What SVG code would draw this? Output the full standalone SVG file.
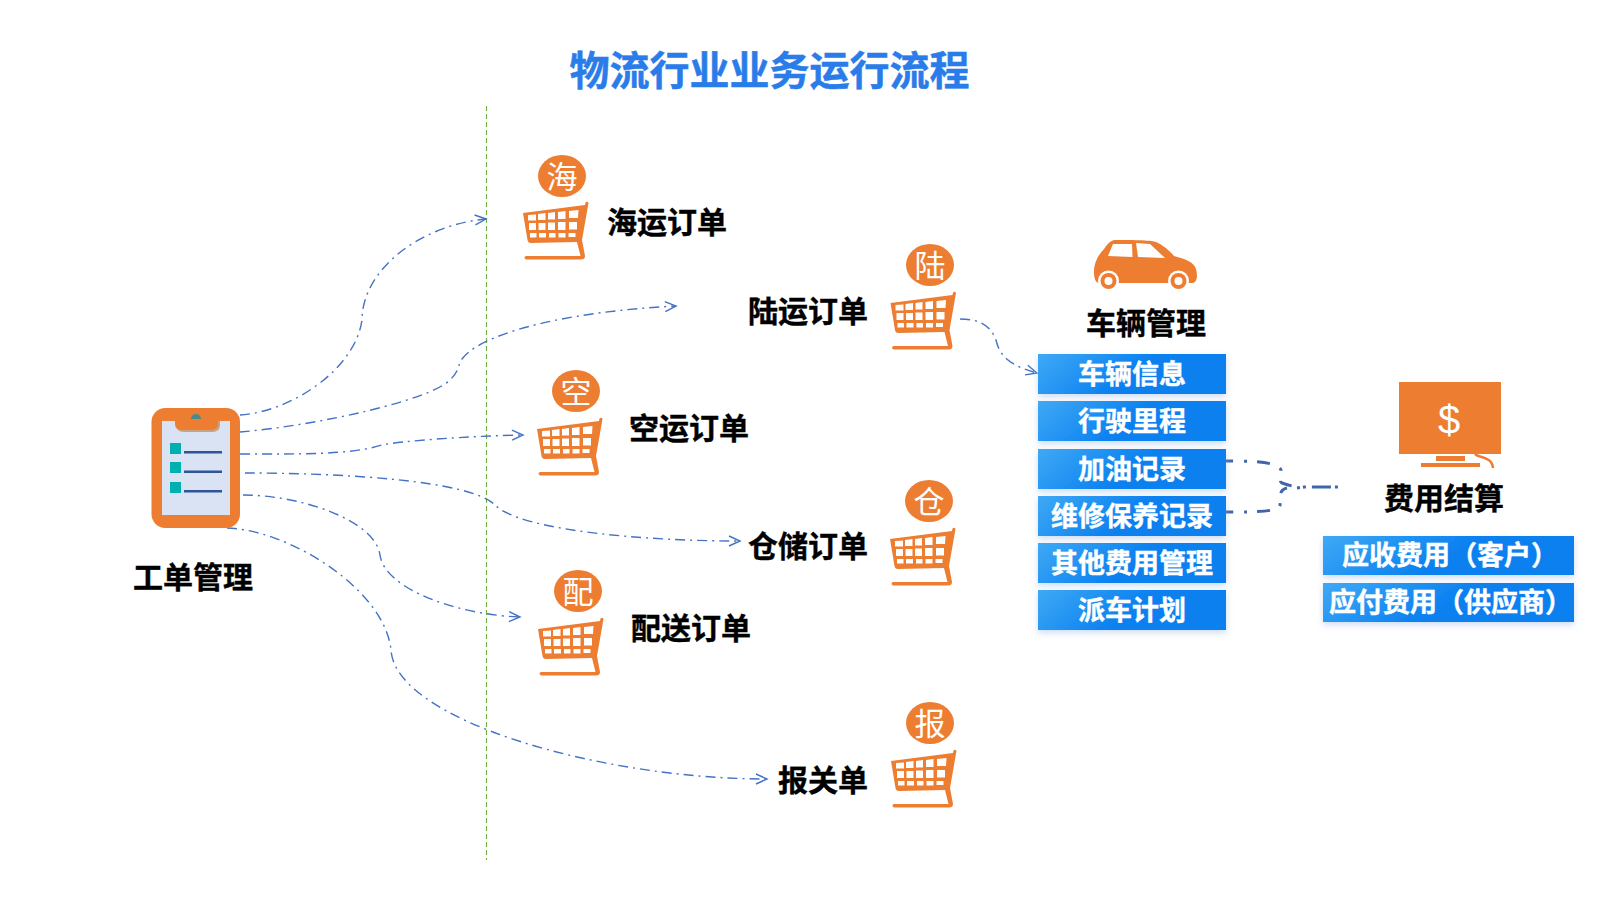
<svg xmlns="http://www.w3.org/2000/svg" xmlns:xlink="http://www.w3.org/1999/xlink" width="1600" height="900" viewBox="0 0 1600 900">
<style>
text{font-family:"Noto Sans CJK SC","Noto Sans",sans-serif}
.lbl{font-size:30px;font-weight:700;fill:#000;stroke:#000;stroke-width:.4;dominant-baseline:central}
.bar{font-size:27px;font-weight:700;fill:#fff;stroke:#fff;stroke-width:.4;text-anchor:middle;dominant-baseline:central}
.bar2{font-size:27px;font-weight:700;fill:#fff;stroke:#fff;stroke-width:.4;dominant-baseline:central}
.badge{font-size:31px;fill:#fff;text-anchor:middle;dominant-baseline:central}
.c{fill:none;stroke:#4472c4;stroke-width:1.4;stroke-dasharray:10 5 2 5;marker-end:url(#arr)}
.d{fill:none;stroke:#3f66a6;stroke-width:3;stroke-dasharray:13 11 3 10;stroke-dashoffset:6}
.o{fill:#ed7d31}
.w{fill:#fff}
.b{fill:url(#g);filter:url(#s)}
</style>
<defs>
<linearGradient id="g" x1="0" y1="0" x2="1" y2="0.25"><stop offset="0" stop-color="#3fa9f5"/><stop offset=".6" stop-color="#0a80f0"/><stop offset="1" stop-color="#0a80f0"/></linearGradient>
<filter id="s" x="-10%" y="-20%" width="120%" height="160%"><feDropShadow dx="0" dy="3" stdDeviation="3" flood-color="#9dbde8" flood-opacity=".5"/></filter>
<marker id="arr" markerUnits="userSpaceOnUse" markerWidth="14" markerHeight="14" refX="12" refY="6" orient="auto"><path d="M1 1L12 6L1 11" fill="none" stroke="#4472c4" stroke-width="1.400"/></marker>
<g id="basket">
<path class="o" fill-rule="evenodd" d="M0 11L62 3L62.500 0.500Q64.500 -1 65.500 1L59 38L62 54Q62 57.500 58 57.500L3 57.500Q0 55.500 3 54L57.500 54L54 40L8 41Q5 41 4.500 38ZM5 13V18.500H13L13 12.500ZM15 12V18H22.500V11ZM25 11V17.500H32V10ZM35 10V17H42.500V9ZM46 9V16H55L55.500 8ZM6 21V28H13V21ZM15.500 21V28H22.500V21ZM25 20.500V28H32V20.500ZM35 20V28H42.500V20ZM46 20V27.500H54V20ZM7 31V35.500H13.500V31ZM16 31V35.500H23V31ZM26 31V35.500H32.500V31ZM35.500 31V35.500H42.500V31ZM45.500 31V35H52.500V31Z"/>
</g>
</defs>
<rect width="1600" height="900" fill="#fff"/>
<text id="title" x="769.500" y="68" font-size="40" font-weight="700" fill="#2a7de9" stroke="#2a7de9" stroke-width=".5" text-anchor="middle" dominant-baseline="central">物流行业业务运行流程</text>
<line id="divider" x1="486.500" y1="106" x2="486.500" y2="860" stroke="#70ad47" stroke-width="1.100" stroke-dasharray="5 3"/>
<g id="connectors">
<path class="c" d="M240 415C290 412 355 370 362 320C362 270 420 225 486 219"/>
<path class="c" d="M240 432C320 425 430 400 450 380C458 372 458 368 460 362C475 335 560 312 676 306"/>
<path class="c" d="M240 454C300 454 350 455 382 445C400 441 470 436 523 435"/>
<path class="c" d="M245 473C340 473 470 480 495 505C520 530 640 541 740 541"/>
<path class="c" d="M243 495C300 495 375 520 380 555C385 590 460 615 520 617"/>
<path class="c" d="M227 528C290 530 385 590 391 650C395 720 600 779 767 779"/>
<path class="c" d="M960 319C985 319 992 330 996 340C1000 358 1012 366 1037 373"/>
<path class="d" d="M1226 461C1255 461 1278 462 1281 470C1281 478 1279 482 1282 483C1285 484 1288 485 1292 486"/>
<path class="d" d="M1226 512C1255 512 1280 512 1280 505C1281 497 1278 490 1287 488"/>
<path fill="none" stroke="#3f66a6" stroke-width="3" stroke-dasharray="3 3 3 6 19 4 3" d="M1297 488L1304 487H1338"/>
</g>
<g id="workorder">
<rect class="o" x="151.500" y="408" width="88.500" height="120" rx="14"/>
<rect x="162" y="421" width="68" height="94" fill="#dae3f3"/>
<path d="M176 421H220V425Q220 432 212 432H184Q176 432 176 425Z" fill="#c6a47e"/>
<path class="o" d="M175 421H218V424Q218 430 210 430H183Q175 430 175 424Z"/>
<path d="M191 419A5 5 0 0 1 201 419Z" fill="#4f8a8b"/>
<g fill="#00b0b0"><rect x="170" y="443" width="11" height="11"/><rect x="170" y="462" width="11" height="11"/><rect x="170" y="482" width="11" height="11"/></g>
<g fill="#2f5597"><rect x="184" y="451" width="38" height="2.500"/><rect x="184" y="470.500" width="38" height="2.500"/><rect x="184" y="490" width="38" height="2.500"/></g>
<text class="lbl" x="133" y="575">工单管理</text>
</g>
<g id="sea"><ellipse class="o" cx="562" cy="176" rx="24" ry="21"/><text class="badge" x="562" y="174">海</text><use xlink:href="#basket" href="#basket" x="523" y="202"/><text class="lbl" x="607" y="220">海运订单</text></g>
<g id="land"><ellipse class="o" cx="930" cy="265" rx="24" ry="21"/><text class="badge" x="930" y="263">陆</text><use xlink:href="#basket" href="#basket" x="890.500" y="292"/><text class="lbl" x="748" y="309">陆运订单</text></g>
<g id="air"><ellipse class="o" cx="576" cy="391" rx="24" ry="21"/><text class="badge" x="576" y="389">空</text><use xlink:href="#basket" href="#basket" x="537" y="418"/><text class="lbl" x="629" y="426">空运订单</text></g>
<g id="storage"><ellipse class="o" cx="929" cy="501" rx="24" ry="21"/><text class="badge" x="929" y="499">仓</text><use xlink:href="#basket" href="#basket" x="890" y="528"/><text class="lbl" x="748" y="544">仓储订单</text></g>
<g id="delivery"><ellipse class="o" cx="578" cy="591" rx="24" ry="21"/><text class="badge" x="578" y="589">配</text><use xlink:href="#basket" href="#basket" x="538" y="618"/><text class="lbl" x="631" y="626">配送订单</text></g>
<g id="customs"><ellipse class="o" cx="930" cy="723" rx="24" ry="21"/><text class="badge" x="930" y="721">报</text><use xlink:href="#basket" href="#basket" x="891" y="750"/><text class="lbl" x="778" y="778">报关单</text></g>
<g id="vehicle">
<path class="o" d="M1094 272C1094 262 1099 254 1104 249C1107 244 1110 241 1114 240C1130 240 1150 240 1156 242C1163 245 1170 251 1174 256C1185 259 1194 262 1196 269C1198 276 1197 283 1192 283L1100 283C1096 283 1094 280 1094 272Z"/>
<path class="w" d="M1108 256L1113 244H1132L1132.500 257ZM1138 257L1136 243L1150 244L1165 258Z"/>
<circle class="w" cx="1108.500" cy="281" r="10.500"/><circle class="o" cx="1108.500" cy="281" r="8"/><circle class="w" cx="1108.500" cy="281" r="4"/>
<circle class="w" cx="1178.500" cy="281" r="10.500"/><circle class="o" cx="1178.500" cy="281" r="8"/><circle class="w" cx="1178.500" cy="281" r="4"/>
<text class="lbl" x="1086" y="321">车辆管理</text>
<rect class="b" x="1038" y="354" width="188" height="40"/><text class="bar" x="1132" y="372">车辆信息</text>
<rect class="b" x="1038" y="401" width="188" height="40"/><text class="bar" x="1132" y="419">行驶里程</text>
<rect class="b" x="1038" y="449" width="188" height="40"/><text class="bar" x="1132" y="467">加油记录</text>
<rect class="b" x="1038" y="496" width="188" height="40"/><text class="bar" x="1132" y="514">维修保养记录</text>
<rect class="b" x="1038" y="543" width="188" height="40"/><text class="bar" x="1132" y="561">其他费用管理</text>
<rect class="b" x="1038" y="590" width="188" height="40"/><text class="bar" x="1132" y="608">派车计划</text>
</g>
<g id="settlement">
<rect class="o" x="1399" y="382" width="102" height="72"/>
<text x="1449" y="420" font-size="40" fill="#fff" text-anchor="middle" dominant-baseline="central" style="font-family:'Liberation Sans',sans-serif">$</text>
<rect class="o" x="1436" y="456" width="29" height="5"/>
<rect class="o" x="1421" y="463" width="59" height="4"/>
<path d="M1475 454C1478 458 1492 456 1493 468" fill="none" stroke="#ed7d31" stroke-width="2.500"/>
<text class="lbl" x="1384" y="496">费用结算</text>
<rect class="b" x="1323" y="536" width="251" height="39"/><text class="bar2" x="1342" y="553.500">应收费用（客户）</text>
<rect class="b" x="1323" y="583" width="251" height="39"/><text class="bar2" x="1329" y="600.500">应付费用（供应商）</text>
</g>
</svg>
